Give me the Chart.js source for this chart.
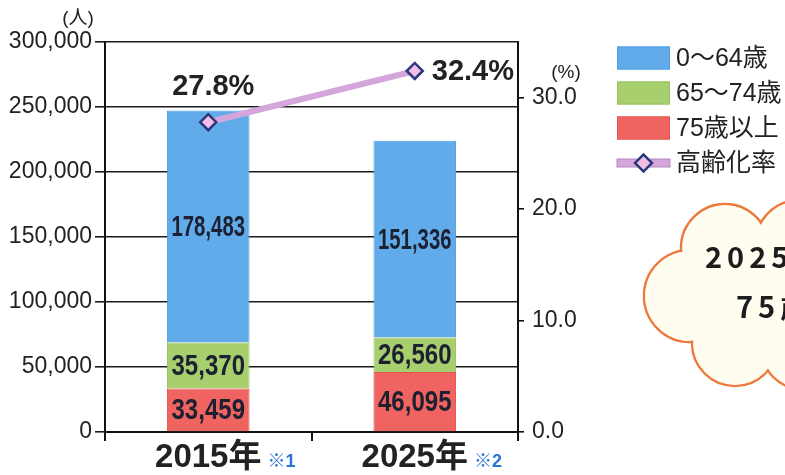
<!DOCTYPE html>
<html>
<head>
<meta charset="utf-8">
<script src="https://cdn.jsdelivr.net/npm/chart.js@4.4.1/dist/chart.umd.min.js"></script>
<style>
  html, body { margin: 0; padding: 0; background: #fff; }
</style>
</head>
<body>
<canvas id="koreika" width="785" height="475"></canvas>
<script>
const years = ['2015年', '2025年'];
const yearNotes = ['※1', '※2'];
const age0to64 = [178483, 151336];
const age65to74 = [35370, 26560];
const age75over = [33459, 46095];
const agingRate = [27.8, 32.4];
const seriesNames = ['75歳以上', '65～74歳', '0～64歳', '高齢化率'];
const legendOrder = [2, 1, 0, 3];
const cloudLines = ['2025', '75歳'];

const FONT = '"Liberation Sans", "Noto Sans CJK JP", sans-serif';
const INK = '#1c2030';

// labels, legend, unit titles and the cloud are drawn here
const decor = {
  id: 'decor',
  afterDatasetsDraw(chart) {
    const ctx = chart.ctx;
    ctx.save();
    // values inside the bars, squeezed to fit
    for (let i = 0; i < 3; i++) {
      const meta = chart.getDatasetMeta(i);
      meta.data.forEach((bar, j) => {
        const p = bar.getProps(['x', 'y', 'base', 'width'], true);
        const txt = chart.data.datasets[i].data[j].toLocaleString('en-US');
        ctx.font = 'bold 32px ' + FONT;
        const w = ctx.measureText(txt).width;
        const sx = Math.min(1, p.width * 0.89 / w);
        ctx.save();
        ctx.translate(p.x, (p.y + p.base) / 2 + 1);
        ctx.scale(sx, 0.95);
        ctx.fillStyle = INK;
        ctx.textAlign = 'center';
        ctx.textBaseline = 'middle';
        ctx.fillText(txt, 0, 0);
        ctx.restore();
      });
    }
    // rate labels
    const lm = chart.getDatasetMeta(3);
    ctx.font = 'bold 29px ' + FONT;
    ctx.fillStyle = '#222';
    ctx.textBaseline = 'middle';
    lm.data.forEach((pt, j) => {
      const txt = agingRate[j].toFixed(1) + '%';
      if (j === 0) {
        ctx.textAlign = 'center';
        ctx.fillText(txt, pt.x + 5, pt.y - 35);
      } else {
        ctx.textAlign = 'left';
        ctx.fillText(txt, pt.x + 17, pt.y + 1);
      }
    });
    ctx.restore();
  },
  afterDraw(chart) {
    const ctx = chart.ctx;
    ctx.save();
    // unit titles
    ctx.fillStyle = '#222';
    ctx.textAlign = 'center';
    ctx.textBaseline = 'middle';
    ctx.font = '19px ' + FONT;
    ctx.fillText('(人)', 78, 19);
    ctx.fillText('(%)', 566, 73);

    // notes after the year labels
    const xs = chart.scales.x;
    ctx.font = 'bold 33px ' + FONT;
    years.forEach((y, j) => {
      const cx = xs.getPixelForValue(j);
      const w = ctx.measureText(y).width;
      ctx.save();
      ctx.font = 'bold 18px ' + FONT;
      ctx.fillStyle = '#2a74d6';
      ctx.textAlign = 'left';
      ctx.fillText(yearNotes[j], cx + w / 2 + 6, 462);
      ctx.restore();
    });

    // legend
    const bx = 617, bw = 53, bh = 23;
    legendOrder.forEach((di, k) => {
      const ds = chart.data.datasets[di];
      const cy = 58 + k * 35;
      if (ds.type === 'line') {
        ctx.fillStyle = ds.borderColor;
        ctx.fillRect(bx, cy - 4, bw, 8);
        ctx.strokeStyle = '#b48ac0';
        ctx.lineWidth = 1;
        ctx.strokeRect(bx, cy - 4, bw, 8);
        ctx.save();
        ctx.translate(bx + bw / 2, cy);
        ctx.rotate(Math.PI / 4);
        ctx.fillStyle = ds.pointBackgroundColor;
        ctx.strokeStyle = ds.pointBorderColor;
        ctx.lineWidth = 2.5;
        ctx.fillRect(-6, -6, 12, 12);
        ctx.strokeRect(-6, -6, 12, 12);
        ctx.restore();
      } else {
        ctx.fillStyle = ds.backgroundColor;
        ctx.fillRect(bx, cy - bh / 2, bw, bh);
        ctx.strokeStyle = ds.borderColor;
        ctx.lineWidth = 1;
        ctx.strokeRect(bx + 0.5, cy - bh / 2 + 0.5, bw - 1, bh - 1);
      }
      ctx.fillStyle = '#222';
      ctx.textAlign = 'left';
      ctx.textBaseline = 'middle';
      ctx.font = '25px ' + FONT;
      ctx.fillText(ds.label, bx + bw + 6, cy + 1);
    });

    // cloud at the right edge
    const bumps = [[725, 248, 44], [690, 296, 46], [735, 343, 43], [770, 296, 62], [800, 245, 45], [805, 345, 45]];
    ctx.strokeStyle = '#ec7a3c';
    ctx.lineWidth = 2.5;
    bumps.forEach(b => { ctx.beginPath(); ctx.arc(b[0], b[1], b[2], 0, Math.PI * 2); ctx.stroke(); });
    ctx.fillStyle = '#fffdf0';
    bumps.forEach(b => { ctx.beginPath(); ctx.arc(b[0], b[1], b[2] - 1.2, 0, Math.PI * 2); ctx.fill(); });
    ctx.fillStyle = '#1d1d1d';
    ctx.font = 'bold 29px "Noto Sans CJK JP", sans-serif';
    ctx.textAlign = 'left';
    ctx.textBaseline = 'middle';
    ctx.letterSpacing = '5px';
    ctx.fillText(cloudLines[0], 705, 257);
    ctx.fillText(cloudLines[1], 736, 307);
    ctx.restore();
  }
};

new Chart(document.getElementById('koreika'), {
  data: {
    labels: years,
    datasets: [
      {
        type: 'bar', label: seriesNames[0], data: age75over,
        backgroundColor: '#ef6461', borderColor: '#e2524e', borderWidth: 1,
        barPercentage: 0.4, categoryPercentage: 1, order: 1
      },
      {
        type: 'bar', label: seriesNames[1], data: age65to74,
        backgroundColor: '#a8cf6e', borderColor: '#98c060', borderWidth: 1,
        barPercentage: 0.4, categoryPercentage: 1, order: 1
      },
      {
        type: 'bar', label: seriesNames[2], data: age0to64,
        backgroundColor: '#62abeb', borderColor: '#4e9ee6', borderWidth: 1,
        barPercentage: 0.4, categoryPercentage: 1, order: 1
      },
      {
        type: 'line', label: seriesNames[3], data: agingRate, yAxisID: 'y1',
        borderColor: '#d4a6dc', borderWidth: 6,
        pointStyle: 'rectRot', pointRadius: 8,
        pointBackgroundColor: '#f2bde6', pointBorderColor: '#283a7c', pointBorderWidth: 2.5,
        order: 0
      }
    ]
  },
  plugins: [decor],
  options: {
    animation: false,
    responsive: false,
    maintainAspectRatio: false,
    devicePixelRatio: 1,
    layout: { padding: { top: 42, left: 0, right: 0, bottom: 0 } },
    plugins: {
      legend: { display: false },
      tooltip: { enabled: false }
    },
    scales: {
      x: {
        stacked: true,
        afterFit: function(scale) { scale.height = 43; },
        grid: { offset: true, drawOnChartArea: false, color: '#111', lineWidth: 2, tickLength: 9 },
        border: { color: '#111', width: 2 },
        ticks: { color: '#222', font: { size: 33, family: FONT, weight: 'bold' }, padding: -3 }
      },
      y: {
        stacked: true,
        min: 0,
        max: 300000,
        afterFit: function(scale) { scale.width = 105; },
        ticks: {
          stepSize: 50000,
          color: '#222',
          padding: 3,
          font: { size: 23, family: FONT },
          callback: function(value) { return value.toLocaleString('en-US'); }
        },
        grid: { color: '#1a1a1a', lineWidth: 1.6, tickLength: 10 },
        border: { color: '#111', width: 2 }
      },
      y1: {
        position: 'right',
        min: 0,
        max: 35,
        afterFit: function(scale) { scale.width = 267; },
        afterBuildTicks: function(scale) {
          scale.ticks = scale.ticks.filter(t => t.value % 10 === 0);
        },
        ticks: {
          stepSize: 10,
          color: '#222',
          padding: 8,
          font: { size: 23, family: FONT },
          callback: function(value) { return value.toFixed(1); }
        },
        grid: { drawOnChartArea: false, color: '#111', lineWidth: 1.6, tickLength: 6 },
        border: { color: '#111', width: 2 }
      }
    }
  }
});
</script>
</body>
</html>
